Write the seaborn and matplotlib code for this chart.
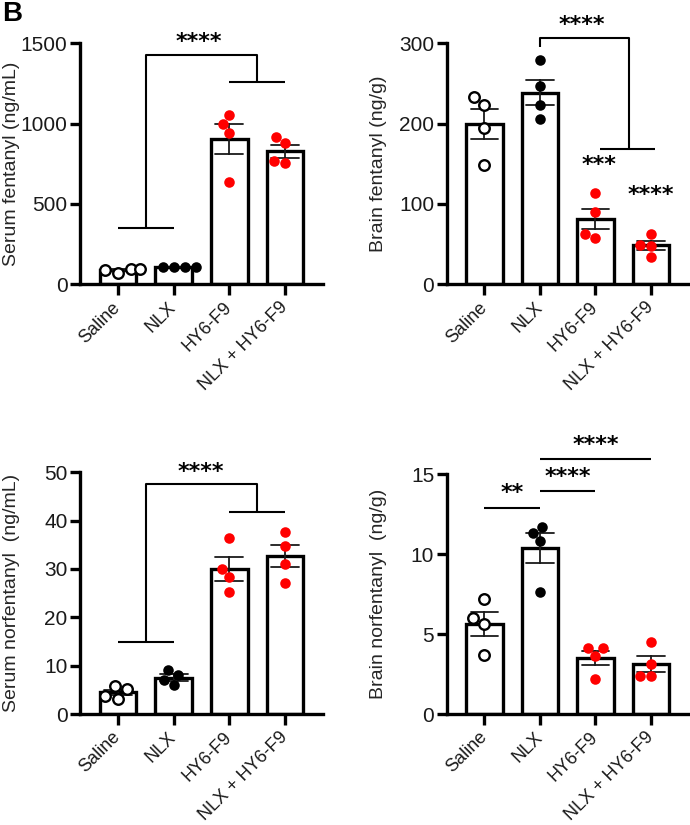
import matplotlib
matplotlib.use("Agg")
import matplotlib.pyplot as plt
import seaborn as sns
import pandas as pd
import numpy as np

sns.set_style("ticks")
plt.rcParams['font.family'] = ['Liberation Sans', 'DejaVu Sans']

groups = ["Saline", "NLX", "HY6-F9", "NLX + HY6-F9"]

# Serum fentanyl (ng/mL)
sf_saline = [70, 98, 98, 88]
sf_nlx = [105, 110, 110, 106]
sf_hy6 = [995, 1052, 942, 637]
sf_combo = [879, 917, 755, 767]

# Brain fentanyl (ng/g)
bf_saline = [223, 233, 194, 149]
bf_nlx = [279, 247, 223, 206]
bf_hy6 = [114, 90, 58, 63]
bf_combo = [63, 49, 48, 34]

# Serum norfentanyl (ng/mL)
sn_saline = [5.8, 5.1, 3.7, 3.2]
sn_nlx = [9.0, 8.1, 7.0, 6.1]
sn_hy6 = [36.5, 30.0, 28.3, 25.2]
sn_combo = [37.6, 34.8, 31.0, 27.2]

# Brain norfentanyl (ng/g)
bn_saline = [7.2, 6.0, 5.6, 3.7]
bn_nlx = [11.3, 11.7, 10.8, 7.6]
bn_hy6 = [4.1, 4.1, 3.6, 2.2]
bn_combo = [4.5, 3.1, 2.4, 2.4]

panels = [
    ("Serum fentanyl (ng/mL)", [sf_saline, sf_nlx, sf_hy6, sf_combo], [0, 500, 1000, 1500]),
    ("Brain fentanyl (ng/g)", [bf_saline, bf_nlx, bf_hy6, bf_combo], [0, 100, 200, 300]),
    ("Serum norfentanyl  (ng/mL)", [sn_saline, sn_nlx, sn_hy6, sn_combo], [0, 10, 20, 30, 40, 50]),
    ("Brain norfentanyl  (ng/g)", [bn_saline, bn_nlx, bn_hy6, bn_combo], [0, 5, 10, 15]),
]

marker_styles = [
    dict(color="white", edgecolor="black", linewidth=1.7),
    dict(color="black", edgecolor="black", linewidth=0),
    dict(color="#ff0000", edgecolor="#ff0000", linewidth=0),
    dict(color="#ff0000", edgecolor="#ff0000", linewidth=0),
]

fig = plt.figure(figsize=(6.9, 8.25), dpi=100)
W, H = 690, 825
rects = [
    (80, 284.3, 243, 241),
    (446.7, 284.3, 242, 241),
    (80, 714, 243, 241.7),
    (446.7, 714, 242, 240),
]
axes = []
for (l, b, w, h) in rects:
    axes.append(fig.add_axes([l / W, 1 - b / H, w / W, h / H]))

LW = 2.4
for ax, (ylabel, vals, yticks) in zip(axes, panels):
    df = pd.DataFrame({
        "group": np.repeat(groups, [len(v) for v in vals]),
        "value": np.concatenate([np.asarray(v, float) for v in vals]),
    })
    sns.barplot(data=df, x="group", y="value", order=groups, ax=ax,
                errorbar="se", capsize=0.5, width=0.66,
                color="white", edgecolor="black", linewidth=LW,
                err_kws={"color": "#1a1a1a", "linewidth": 1.3, "zorder": 3})
    for i, g in enumerate(groups):
        sub = df[df["group"] == g]
        sns.swarmplot(data=sub, x="group", y="value", order=groups, ax=ax,
                      size=7.6, zorder=4, clip_on=False, **marker_styles[i])
    ax.set_ylim(0, yticks[-1])
    ax.set_yticks(yticks)
    ax.set_xlim(-0.68, 3.68)
    ax.set_xlabel("")
    ax.set_ylabel(ylabel, fontsize=14)
    ax.yaxis.set_label_coords(-0.247, 0.5)
    for s in ["top", "right"]:
        ax.spines[s].set_visible(False)
    for s in ["left", "bottom"]:
        ax.spines[s].set_linewidth(LW)
        ax.spines[s].set_color("black")
    ax.tick_params(axis="y", width=LW, length=7, color="black",
                   labelsize=15, labelcolor="#1a1a1a", pad=2)
    ax.tick_params(axis="x", width=LW, length=7.8, color="black",
                   labelsize=13, labelcolor="#1a1a1a", pad=7)
    ax.set_xticks(range(len(groups)))
    ax.set_xticklabels(groups, rotation=45, ha="right", va="center",
                       rotation_mode="anchor")


def line(ax, xs, ys):
    ax.plot(xs, ys, color="black", linewidth=1.5, clip_on=False,
            solid_capstyle="butt", zorder=5)


def stars(ax, x, y, s):
    ax.text(x, y, s, ha="center", va="center", fontsize=16,
            fontweight="bold", family="DejaVu Sans", color="black",
            clip_on=False, zorder=5)


# Panel A
a = axes[0]
line(a, [0, 1], [350, 350])
line(a, [0.5, 0.5, 2.5, 2.5], [350, 1430, 1430, 1260])
line(a, [2, 3], [1260, 1260])
stars(a, 1.45, 1505, "****")

# Panel B
b = axes[1]
line(b, [1, 1, 2.6, 2.6], [296, 307, 307, 169])
line(b, [2.08, 3.08], [169, 169])
stars(b, 1.75, 323, "****")
stars(b, 2.07, 148, "***")
stars(b, 3.0, 111, "****")

# Panel C
c = axes[2]
line(c, [0, 1], [14.8, 14.8])
line(c, [0.5, 0.5, 2.5, 2.5], [14.8, 47.5, 47.5, 41.8])
line(c, [2, 3], [41.8, 41.8])
stars(c, 1.49, 50.0, "****")

# Panel D
d = axes[3]
line(d, [0, 1], [12.86, 12.86])
stars(d, 0.5, 13.8, "**")
line(d, [1, 2], [13.94, 13.94])
stars(d, 1.5, 14.8, "****")
line(d, [1, 3], [15.92, 15.92])
stars(d, 2.0, 16.8, "****")

fig.text(2 / W, 1 - 1 / H, "B", fontsize=20, fontweight="bold",
         ha="left", va="top", color="black")

fig.savefig("out.png", dpi=100)
